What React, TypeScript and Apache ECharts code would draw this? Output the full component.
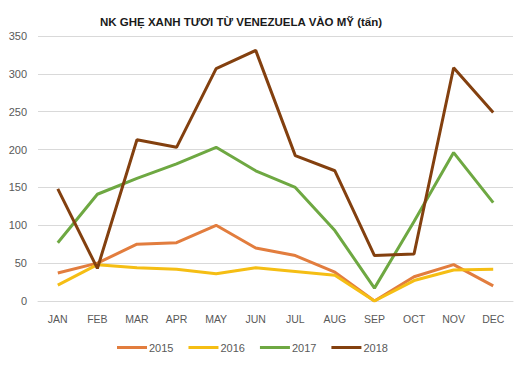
import React, { useEffect, useRef } from "react";
import * as echarts from "echarts";

const months = ["JAN", "FEB", "MAR", "APR", "MAY", "JUN", "JUL", "AUG", "SEP", "OCT", "NOV", "DEC"];
const s2015 = [37, 50, 75, 77, 100, 70, 60, 38, 0, 32, 48, 20];
const s2016 = [21, 48, 44, 42, 36, 44, 39, 34, 0, 27, 41, 42];
const s2017 = [77, 141, 162, 181, 203, 172, 150, 93, 17, 105, 196, 130];
const s2018 = [148, 43, 213, 203, 307, 331, 192, 172, 60, 62, 308, 249];
const seriesNames = ["2015", "2016", "2017", "2018"];
const colors = ["#E27D3E", "#F5BE14", "#6EA842", "#83400F"];
const title = "NK GHẸ XANH TƯƠI TỪ VENEZUELA VÀO MỸ (tấn)";

export default function App() {
  const ref = useRef<HTMLDivElement>(null);
  useEffect(() => {
    if (!ref.current) return;
    const chart = echarts.init(ref.current, undefined, { renderer: "svg" });
    const data = [s2015, s2016, s2017, s2018];
    chart.setOption({
      animation: false,
      backgroundColor: "#ffffff",
      title: {
        text: title,
        left: 95,
        top: 11,
        textStyle: { fontFamily: "Liberation Sans, Arial", fontSize: 11.5, fontWeight: "bold", color: "#1a1a1a" },
      },
      legend: {
        bottom: 10,
        left: 112,
        itemWidth: 30,
        itemHeight: 3,
        itemGap: 15,
        icon: "rect",
        data: seriesNames,
        textStyle: { fontFamily: "Liberation Sans, Arial", fontSize: 11, color: "#595959", padding: [0, 0, 0, -3] },
      },
      grid: { left: 38, right: 2, top: 36, bottom: 67 },
      xAxis: {
        type: "category",
        data: months,
        boundaryGap: true,
        axisLine: { lineStyle: { color: "#d9d9d9" } },
        axisTick: { show: false },
        axisLabel: { color: "#595959", fontSize: 10.5, fontFamily: "Liberation Sans, Arial", margin: 12 },
      },
      yAxis: {
        type: "value",
        min: 0,
        max: 350,
        interval: 50,
        axisLine: { show: false },
        axisTick: { show: false },
        splitLine: { lineStyle: { color: "#d9d9d9", width: 1 } },
        axisLabel: { color: "#595959", fontSize: 11, fontFamily: "Liberation Sans, Arial", margin: 11 },
      },
      series: seriesNames.map((n, i) => ({
        name: n,
        type: "line",
        data: data[i],
        symbol: "none",
        lineStyle: { width: 3, color: colors[i] },
        itemStyle: { color: colors[i] },
      })),
    });
    return () => chart.dispose();
  }, []);
  return <div ref={ref} style={{ position: "fixed", left: 0, top: 0, width: 515, height: 368 }} />;
}
